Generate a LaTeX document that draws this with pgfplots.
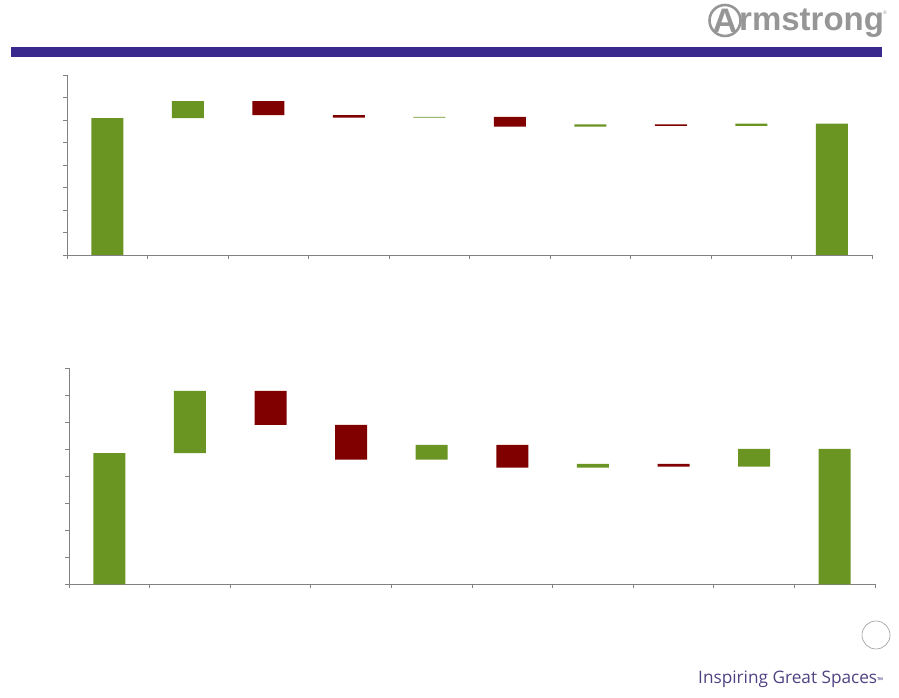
\documentclass[border=0pt]{standalone}
\usepackage{pgfplots}
\pgfplotsset{compat=1.18}
\usepackage{pgfplotstable}
\usepackage{fontspec}
\setmainfont{Liberation Sans}
\newfontfamily\logofont{Liberation Sans}
\newfontfamily\tagfont{Open Sans}
\definecolor{barGreen}{RGB}{107,149,35}
\definecolor{barRed}{RGB}{128,0,0}
\definecolor{banner}{RGB}{58,42,142}
\definecolor{axisgray}{RGB}{130,130,130}
\definecolor{logogray}{RGB}{150,150,150}
\definecolor{tagcolor}{RGB}{80,66,130}

\pgfplotstableread{
x base green red
0 0   304 0
1 304 38  0
2 311 0   31
3 305 0   6
4 305 2   0
5 285 0   22
6 285 5   0
7 287 0   3
8 287 5   0
9 0   292 0
}\topdata

\pgfplotstableread{
x base green red
0 0   243 0
1 243 115 0
2 295 0   63
3 231 0   64
4 231 27  0
5 216 0   42
6 216 7   0
7 218 0   5
8 218 33  0
9 0   251 0
}\botdata

\pgfplotsset{wf/.style={
  scale only axis,
  xmin=-0.5, xmax=9.5, ymin=0, ymax=400,
  ybar stacked, bar width=32pt,
  axis x line*=bottom, axis y line*=left,
  xtick={-0.5,0.5,1.5,2.5,3.5,4.5,5.5,6.5,7.5,8.5,9.5},
  ytick={0,50,100,150,200,250,300,350,400},
  xticklabels={}, yticklabels={},
  tick align=outside, major tick length=4pt,
  axis line style={draw=axisgray, line width=0.9pt, -},
  tick style={draw=axisgray, line width=0.9pt},
  clip=false,
}}

\begin{document}
\begin{tikzpicture}
\begin{scope}[x=1pt,y=1pt]
\path[use as bounding box] (0,0) rectangle (899,698);
% banner
\fill[banner] (10.5,641) rectangle (882,651.3);
% logo
\draw[logogray, line width=2.6pt] (725,677.5) circle (15.5);
\node[text=logogray, font=\logofont\bfseries\fontsize{34}{34}\selectfont, inner sep=0] at (725,677) {A};
\node[anchor=base west, text=logogray, font=\logofont\bfseries\fontsize{33}{33}\selectfont, inner sep=0] at (739,667) {rmstrong};
\node[anchor=base west, text=logogray, font=\logofont\fontsize{5}{5}\selectfont, inner sep=0] at (883,683) {\textregistered};
% slide number circle
\draw[gray!80, line width=0.6pt] (876,63) circle (14);
% tagline
\node[anchor=base west, text=tagcolor, inner sep=0] at (698,14.5) {\resizebox{179pt}{!}{\tagfont\fontsize{15}{15}\selectfont Inspiring Great Spaces}{\tagfont\fontsize{8}{8}\selectfont ™}};
\end{scope}
% top waterfall
\begin{axis}[wf, at={(67pt,443pt)}, anchor=south west, width=805pt, height=180pt]
\addplot[draw=none, fill=none] table[x=x, y=base] \topdata;
\addplot[draw=none, fill=barGreen] table[x=x, y=green] \topdata;
\addplot[draw=none, fill=barRed] table[x=x, y=red] \topdata;
\end{axis}
% bottom waterfall
\begin{axis}[wf, at={(69pt,113.7pt)}, anchor=south west, width=806pt, height=216pt]
\addplot[draw=none, fill=none] table[x=x, y=base] \botdata;
\addplot[draw=none, fill=barGreen] table[x=x, y=green] \botdata;
\addplot[draw=none, fill=barRed] table[x=x, y=red] \botdata;
\end{axis}
\end{tikzpicture}
\end{document}
